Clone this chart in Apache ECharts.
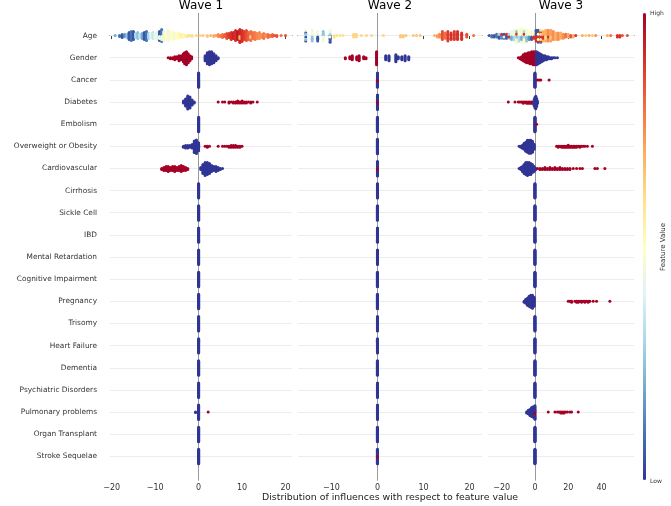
<!DOCTYPE html>
<html>
<head>
<meta charset="utf-8">
<script src="https://cdn.jsdelivr.net/npm/echarts@6/dist/echarts.min.js"></script>
<style>html,body{margin:0;padding:0;background:#fff}#c{width:671px;height:506px}</style>
</head>
<body>
<div id="c"></div>
<script>
// ---------- categories ----------
const features = ['Age','Gender','Cancer','Diabetes','Embolism','Overweight or Obesity','Cardiovascular',
  'Cirrhosis','Sickle Cell','IBD','Mental Retardation','Cognitive Impairment','Pregnancy','Trisomy',
  'Heart Failure','Dementia','Psychiatric Disorders','Pulmonary problems','Organ Transplant','Stroke Sequelae'];
const waveTitles = ['Wave 1','Wave 2','Wave 3'];
const xTicks1 = [-20,-10,0,10,20];
const xTicks2 = [-10,0,10,20];
const xTicks3 = [-20,0,20,40];

// ---------- values: [influence, featureValue(0 low..1 high), count] ----------
const zeroStack = [[0,0,30]];
// Wave 1
const w1Age = [[-19.2,0.2,1],[-18.2,0.1,2],[-17.6,0.05,4],[-17,0.15,3],[-16.5,0.25,4],[-16,0.05,8],[-15.5,0.1,10],[-15,0.05,9],[-14.5,0.3,5],[-14,0.25,7],[-13.5,0.35,4],[-13,0.2,6],[-12.5,0.05,8],[-12,0.1,10],[-11.5,0.3,6],[-11,0.4,5],[-10.5,0.35,7],[-10,0.45,6],[-9.5,0.4,8],[-9,0.05,7],[-9,0.45,3],[-8.5,0.1,9],[-8.5,0.45,4],[-8,0.45,10],[-7.5,0.5,8],[-7,0.45,11],[-6.5,0.48,7],[-6,0.5,9],[-5.5,0.45,6],[-5,0.5,7],[-4.5,0.52,5],[-4,0.55,3],[-3.5,0.52,4],[-3,0.55,2],[-2.5,0.58,2],[-2,0.6,1],[-1.5,0.6,2],[-0.5,0.62,1],[0.3,0.62,1],[1,0.65,1],[2,0.65,2],[2.8,0.68,1],[3.5,0.7,2],[4,0.72,1],[4.5,0.75,3],[5,0.78,2],[5.5,0.8,4],[6,0.82,3],[6.5,0.85,6],[7,0.88,5],[7.5,0.9,8],[8,0.92,7],[8.5,0.9,11],[9,0.95,9],[9.5,0.92,11],[9.5,0.7,3],[10,0.9,12],[10.5,0.88,9],[11,0.85,11],[11.5,0.82,8],[12,0.8,8],[12,0.65,2],[12.5,0.8,7],[13,0.78,8],[13.5,0.76,6],[14,0.75,7],[14.5,0.75,4],[15,0.78,6],[15.5,0.75,3],[16,0.8,4],[16.5,0.8,2],[17,0.82,3],[17.5,0.85,1],[18,0.85,2],[19,0.8,1],[20,0.85,1]];
const w1Gender = [[-7,1,1],[-6.5,1,2],[-6,1,2],[-5.5,1,4],[-5,1,3],[-4.5,1,6],[-4,1,5],[-3.5,1,9],[-3.2,1,12],[-2.8,1,14],[-2.4,1,10],[-2,1,6],[-1.6,1,3],
  [1.5,0,6],[2,0,12],[2.5,0,14],[3,0,13],[3.5,0,10],[4,0,6],[4.5,0,2]];
const w1Diabetes = [[-3.5,0,3],[-3,0,8],[-2.5,0,14],[-2,0,12],[-1.5,0,6],[-1,0,2],
  [4.5,1,1],[5.5,1,1],[6,1,1],[7,1,2],[7.5,1,1],[8,1,2],[8.5,1,2],[9,1,3],[9.5,1,2],[10,1,3],[10.5,1,2],[11,1,2],[11.5,1,1],[12,1,2],[12.5,1,1],[13.5,1,1]];
const w1Overweight = [[-3.5,0,2],[-3,0,4],[-2.5,0,4],[-2,0,3],[-1.5,0,5],[-1,0,14],[-0.5,0,16],[0,0,10],
  [1.5,1,1],[2,1,2],[2.5,1,1],[4.5,1,1],[5.5,1,1],[6,1,1],[6.5,1,1],[7,1,2],[7.5,1,3],[8,1,3],[8.5,1,3],[9,1,2],[9.5,1,2],[10,1,1]];
const w1Cardio = [[-8.5,1,2],[-8,1,4],[-7.5,1,5],[-7,1,6],[-6.5,1,4],[-6,1,5],[-5.5,1,6],[-5,1,4],[-4.5,1,5],[-4,1,7],[-3.5,1,5],[-3,1,4],[-2.5,1,2],
  [0.5,0,3],[1,0,10],[1.5,0,14],[2,0,13],[2.5,0,11],[3,0,7],[3.5,0,5],[4,0,6],[4.5,0,4],[5,0,2],[5.5,0,1]];
const w1Pulmonary = [[0,0,30],[-0.7,0,2],[2.2,1,1]];
// Wave 2
const w2Age = [[-15.6,0.45,5],[-15.6,0.05,3],[-15.6,0.25,2],[-14.2,0.45,5],[-14.2,0.25,4],[-13,0.45,4],[-13,0.05,4],[-11.8,0.25,4],[-11.8,0.45,4],[-10.3,0.05,5],[-10.3,0.45,4],[-10.3,0.3,1],
  [-9.4,0.6,2],[-8.8,0.6,1],[-8.1,0.6,1],[-7.5,0.6,1],[-5.2,0.62,3],[-4.6,0.62,3],[-3.5,0.62,1],[-2.4,0.62,1],[-1.3,0.62,1],[1.3,0.62,1],
  [5,0.65,2],[5.6,0.65,2],[6.2,0.65,1],[7.8,0.65,1],[8.5,0.65,1],[9.3,0.65,1],[12.4,0.7,1],[13,0.72,2],[13.5,0.75,3],[14.1,0.85,7],[14.7,0.8,5],
  [15.3,0.88,8],[16,0.9,6],[16.7,0.88,7],[17.4,0.9,7],[18.3,0.9,6],[19.4,0.85,3],[20.9,0.8,1]];
const w2Gender = [[-7,1,2],[-6,1,3],[-5.5,1,5],[-4.5,1,4],[-4,1,6],[-3,1,3],[-2.5,1,2],[-0.2,1,14],
  [1.8,0,5],[2.5,0,6],[4,0,8],[4.5,0,3],[5.3,0,4],[6,0,6],[6.8,0,4]];
const w2ZeroMixed = [[0,0,28],[0,1,2]];
// Wave 3
const w3Age = [[-27.5,0.05,1],[-26,0.1,2],[-24.5,0.05,2],[-23,0.9,1],[-23,0.1,2],[-21.5,0.3,2],[-21.5,0.05,2],[-20,0.9,2],[-20,0.15,2],[-18.5,0.05,3],[-18.5,0.4,1],[-17,0.9,2],[-17,0.05,2],
  [-15.5,0.3,3],[-15.5,0.9,1],[-14,0.45,4],[-14,0.2,3],[-12.5,0.45,6],[-12.5,0.3,3],[-11,0.45,6],[-11,0.25,3],[-11,0.9,1],[-9.5,0.5,7],[-9.5,0.3,4],[-8,0.45,8],[-8,0.2,3],
  [-6.5,0.5,7],[-6.5,0.3,3],[-6.5,0.9,1],[-5,0.45,6],[-5,0.25,4],[-3.5,0.5,5],[-3.5,0.15,3],[-2,0.45,4],[-2,0.05,3],[-0.7,0.5,3],[-0.7,0.9,2],
  [0.7,0.05,5],[0.7,0.9,4],[2,0.05,5],[2,0.9,3],[2,0.5,2],[3.5,0.1,4],[3.5,0.9,3],[3.5,0.6,3],[5,0.7,6],[5,0.9,2],[6.5,0.7,7],[6.5,0.6,2],
  [8,0.75,8],[8,0.9,1],[9.5,0.72,7],[9.5,0.65,2],[11,0.75,7],[12.5,0.7,6],[14,0.75,6],[15.5,0.7,5],[17,0.75,4],[18.5,0.8,3],[20,0.7,3],[21.5,0.85,2],[23,0.7,2],[24.5,0.9,1],
  [28.5,0.7,1],[30.5,0.65,1],[32.5,0.7,1],[34.5,0.65,1],[36.5,0.75,1],[43.5,0.7,1],[45.5,0.8,1],[49.5,0.9,2],[51,0.9,2],[52.5,0.85,1],[55.5,0.85,1]];
const w3Gender = [[-10,1,1],[-9,1,2],[-8,1,4],[-7,1,7],[-6,1,9],[-5,1,10],[-4,1,11],[-3,1,12],[-2,1,13],[-1,1,14],[0,1,14],
  [1,0,14],[2,0,12],[3,0,10],[4,0,8],[5,0,6],[6,0,5],[7,0,4],[8,0,3],[9,0,2],[10,0,2],[11,0,1],[12,0,1],[13.5,0,1]];
const w3Cancer = [[0,0,30],[1.5,1,1],[2.5,1,1],[3.5,1,1],[8.5,1,1]];
const w3Diabetes = [[-16,1,1],[-12,1,1],[-10,1,1],[-9,1,1],[-8,1,1],[-7,1,2],[-6,1,1],[-5,1,2],[-4,1,2],[-3,1,2],[-2,1,2],[-1,1,2],
  [-0.5,0,6],[0,0,10],[0.5,0,12],[1,0,8],[1.5,0,3]];
const w3Embolism = [[0,0,30],[1,1,1]];
const w3Overweight = [[-9.5,0,1],[-8.5,0,2],[-7.5,0,4],[-6.5,0,7],[-5.5,0,10],[-4.5,0,13],[-3.5,0,14],[-2.5,0,14],[-1.5,0,12],[-0.5,0,6],
  [13,1,1],[14,1,2],[15,1,1],[16,1,2],[17,1,2],[18,1,2],[19,1,2],[20,1,3],[21,1,2],[22,1,2],[23,1,2],[24,1,2],[25,1,2],[26,1,1],[27,1,2],[28,1,1],[29,1,1],[30,1,1],[31.5,1,1],[34.5,1,1]];
const w3Cardio = [[-9.5,0,1],[-8.5,0,3],[-7.5,0,6],[-6.5,0,10],[-5.5,0,13],[-4.5,0,14],[-3.5,0,13],[-2.5,0,12],[-1.5,0,9],[-0.5,0,6],[0.5,0,2],
  [1.5,1,1],[3,1,2],[4.5,1,2],[6,1,3],[7.5,1,2],[9,1,3],[10.5,1,2],[12,1,3],[13.5,1,2],[15,1,3],[16.5,1,2],[18,1,2],[19.5,1,2],[21,1,2],[23,1,1],[25,1,1],[27,1,1],[28.5,1,1],[36,1,1],[37.5,1,1],[42,1,1]];
const w3Pregnancy = [[-6.5,0,2],[-5.5,0,5],[-4.5,0,8],[-3.5,0,11],[-2.5,0,13],[-1.5,0,14],[-0.5,0,10],
  [20,1,1],[21,1,1],[22,1,2],[24,1,1],[25,1,2],[26,1,2],[27,1,1],[28,1,2],[29,1,1],[30,1,2],[31,1,1],[32,1,2],[33,1,1],[35,1,1],[37,1,1],[45,1,1]];
const w3Pulmonary = [[-5,0,2],[-4,0,5],[-3,0,8],[-2,0,11],[-1,0,13],[0,0,14],[0,1,2],
  [8,1,1],[12,1,1],[13.5,1,1],[14.5,1,1],[15.5,1,2],[16.5,1,2],[17.5,1,2],[18.5,1,1],[19.5,1,1],[21,1,1],[22,1,1],[26,1,1]];

const wave1Rows = [w1Age,w1Gender,zeroStack,w1Diabetes,zeroStack,w1Overweight,w1Cardio,zeroStack,zeroStack,zeroStack,
  zeroStack,zeroStack,zeroStack,zeroStack,zeroStack,zeroStack,zeroStack,w1Pulmonary,zeroStack,zeroStack];
const wave2Rows = [w2Age,w2Gender,w2ZeroMixed,w2ZeroMixed,zeroStack,zeroStack,w2ZeroMixed,zeroStack,zeroStack,zeroStack,
  zeroStack,zeroStack,zeroStack,zeroStack,zeroStack,zeroStack,zeroStack,zeroStack,zeroStack,w2ZeroMixed];
const wave3Rows = [w3Age,w3Gender,w3Cancer,w3Diabetes,w3Embolism,w3Overweight,w3Cardio,zeroStack,zeroStack,zeroStack,
  zeroStack,zeroStack,w3Pregnancy,zeroStack,zeroStack,zeroStack,zeroStack,w3Pulmonary,zeroStack,zeroStack];

// ---------- beeswarm layout (SHAP-style stacking of equal values) ----------
function swarmRow(rowIdx, entries) {
  const groups = new Map();
  entries.forEach(e => { if (!groups.has(e[0])) groups.set(e[0], []); groups.get(e[0]).push(e); });
  const pts = []; let maxY = 0;
  groups.forEach((list, v) => {
    const rem = list.map(e => e[2]); const per = list.map(() => []);
    let layer = 0; let any = true;
    while (any) {
      any = false;
      list.forEach((e, i) => {
        if (rem[i] > 0) {
          rem[i]--; any = true;
          const y = Math.ceil(layer / 2) * ((layer % 2) * 2 - 1);
          maxY = Math.max(maxY, Math.abs(y));
          per[i].push([v, y, e[1]]); layer++;
        }
      });
    }
    per.forEach(p => p.forEach(q => pts.push(q)));   // later-listed entries drawn on top
  });
  const s = 0.36 / (maxY + 1);
  return pts.map(p => [p[0], rowIdx + p[1] * s, p[2]]);
}
function waveData(rows) { let out = []; rows.forEach((r, i) => { out = out.concat(swarmRow(i, r)); }); return out; }

const grids = [{left:110,width:182},{left:298,width:184},{left:488,width:146}];
const xRanges = [[-20.4,21.5],[-17.28,22.72],[-28.2,59.5]];
const xTicks = [xTicks1,xTicks2,xTicks3];
const allRows = [wave1Rows,wave2Rows,wave3Rows];
const FONT = 'DejaVu Sans';

const option = {
  animation: false,
  textStyle: {fontFamily: FONT},
  title: waveTitles.map((t, i) => ({
    text: t, left: grids[i].left + grids[i].width / 2, top: 0, textAlign: 'center', padding: 0,
    textStyle: {fontSize: 12, fontWeight: 'normal', color: '#000', fontFamily: FONT}
  })),
  grid: grids.map(g => ({left: g.left, width: g.width, top: 13, height: 467.7, containLabel: false})),
  xAxis: grids.map((g, i) => ({
    type: 'value', gridIndex: i, min: xRanges[i][0], max: xRanges[i][1],
    axisLine: {show: true, lineStyle: {color: '#444', width: 1}},
    axisTick: {show: true, length: 3.5, lineStyle: {color: '#444'}, customValues: xTicks[i]},
    axisLabel: {fontSize: 8, color: '#333', margin: 3, customValues: xTicks[i], fontFamily: FONT,
      formatter: v => (v < 0 ? '\u2212' + Math.abs(v) : String(v))},
    splitLine: {show: false}
  })),
  yAxis: grids.map((g, i) => ({
    type: 'value', gridIndex: i, inverse: true, min: -1.02, max: 20.1,
    axisLine: {show: false}, axisTick: {show: false}, splitLine: {show: false},
    axisLabel: {show: i === 0, fontSize: 7.4, color: '#333', margin: 13, fontFamily: FONT,
      customValues: features.map((f, k) => k), formatter: v => features[Math.round(v)] || ''}
  })),
  visualMap: {
    type: 'continuous', min: 0, max: 1, dimension: 2, seriesIndex: [3,4,5],
    left: 643, top: 13, itemWidth: 3, itemHeight: 467, padding: 0, text: null, calculable: false,
    showLabel: false, hoverLink: false,
    inRange: {color: ['#313695','#4575b4','#74add1','#abd9e9','#e0f3f8','#ffffbf','#fee090','#fdae61','#f46d43','#d73027','#a50026']}
  },
  series: [
    ...grids.map((g, i) => ({
      type: 'scatter', xAxisIndex: i, yAxisIndex: i, data: [], z: 1, silent: true,
      markLine: {
        silent: true, symbol: ['none','none'], animation: false, label: {show: false}, z: 1,
        data: features.map((f, k) => ({yAxis: k, lineStyle: {color: '#ececec', width: 1, type: 'solid'}}))
          .concat([{xAxis: 0, lineStyle: {color: '#999', width: 1, type: 'solid'}}])
      }
    })),
    ...allRows.map((rows, i) => ({
      type: 'scatter', xAxisIndex: i, yAxisIndex: i, z: 10, silent: true, symbol: 'circle',
      symbolSize: 3, itemStyle: {opacity: 1, borderWidth: 0, shadowBlur: 0}, data: waveData(rows), large: false
    }))
  ],
  graphic: [
    {type: 'text', left: 390 - 128, top: 493, style: {text: 'Distribution of influences with respect to feature value', fontSize: 9.4, fill: '#222', fontFamily: FONT}},
    {type: 'text', left: 650, top: 10, style: {text: 'High', fontSize: 6, fill: '#333', fontFamily: FONT}},
    {type: 'text', left: 650, top: 478, style: {text: 'Low', fontSize: 6, fill: '#333', fontFamily: FONT}},
    {type: 'text', x: 663, y: 247, rotation: Math.PI / 2, style: {text: 'Feature Value', fontSize: 7, fill: '#333', fontFamily: FONT, align: 'center', verticalAlign: 'middle'}}
  ]
};
echarts.init(document.getElementById('c')).setOption(option);
</script>
</body>
</html>
